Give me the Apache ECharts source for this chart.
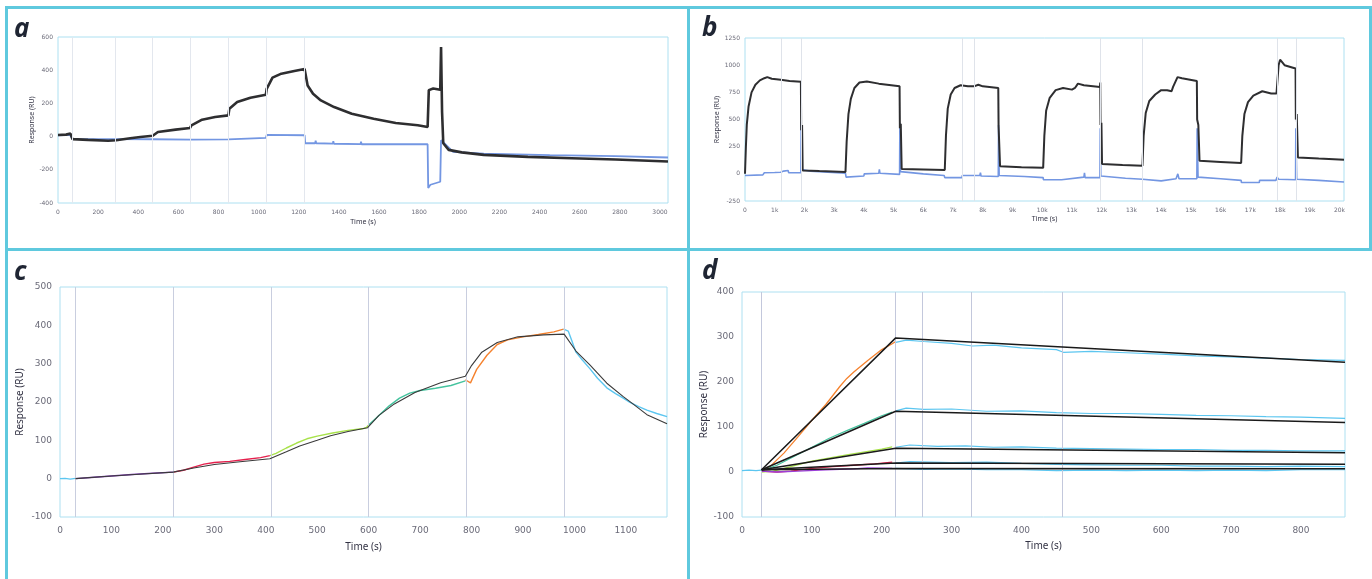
<!DOCTYPE html>
<html>
<head>
<meta charset="utf-8">
<title>SPR sensorgrams</title>
<script src="https://cdn.jsdelivr.net/npm/echarts@6/dist/echarts.min.js"></script>
<style>
  html, body { margin: 0; padding: 0; background: #ffffff; }
  #chart { width: 1372px; height: 579px; }
</style>
</head>
<body>
<div id="chart"></div>
<script>
// ---- panel a : single cycle, two flow cells ----
const aMarkers = [70, 283, 472, 658, 849, 1036, 1229];
const aActive = [[0,10],[40,12],[62,18],[72,-15],[150,-20],[250,-25],[290,-22],[360,-10],[410,-2],[472,5],[476,12],[498,28],[586,42],[658,52],[665,68],[718,102],[783,118],[849,128],[854,168],[893,208],[959,234],[1036,252],[1040,288],[1069,355],[1113,379],[1178,395],[1229,407],[1244,308],[1271,258],[1310,218],[1376,178],[1464,138],[1573,108],[1683,82],[1793,68],[1842,58],[1848,280],[1870,290],[1905,282],[1909,540],[1914,150],[1920,-40],[1947,-80],[2012,-95],[2122,-110],[2342,-122],[2561,-130],[2780,-138],[3040,-150]];
const aReference = [[0,8],[60,10],[65,22],[72,-15],[290,-15],[472,-16],[476,-20],[658,-18],[849,-17],[854,-8],[1036,-8],[1040,10],[1229,8],[1232,-40],[1282,-40],[1284,-24],[1287,-40],[1370,-42],[1372,-28],[1375,-43],[1508,-45],[1510,-30],[1513,-46],[1842,-46],[1845,-310],[1856,-290],[1905,-272],[1909,-22],[1925,-40],[1969,-92],[2122,-102],[2451,-112],[2780,-118],[3040,-126]];

// ---- panel b : six regeneration cycles ----
const bMarkers = [1220, 1880, 7310, 7720, 11940, 13380, 17920, 18560];
const bActive = [[0,0],[30,250],[60,450],[120,620],[220,750],[350,820],[500,860],[650,880],[750,890],[900,875],[1200,865],[1500,855],[1880,848],[1890,400],[1920,450],[1940,30],[2500,25],[3380,18],
  [3390,20],[3420,300],[3480,550],[3560,690],[3680,790],[3850,840],[4100,850],[4500,830],[5200,805],[5210,420],[5240,460],[5270,45],[6000,40],[6720,35],
  [6730,40],[6760,350],[6820,600],[6920,730],[7050,790],[7250,815],[7500,805],[7700,805],[7850,820],[8000,805],[8520,790],[8530,440],[8560,450],[8580,70],[9300,60],[10030,55],
  [10040,60],[10070,350],[10130,580],[10250,700],[10450,770],[10700,790],[11000,775],[11100,790],[11200,830],[11400,815],[11940,800],[11950,840],[11960,450],[11990,470],[12010,90],[12700,82],[13370,75],
  [13380,80],[13410,350],[13480,560],[13600,670],[13800,730],[14000,770],[14200,770],[14350,760],[14400,800],[14550,890],[14700,880],[15200,855],[15210,500],[15250,450],[15290,120],[16000,110],[16690,100],
  [16700,105],[16730,350],[16800,550],[16920,660],[17100,720],[17400,760],[17700,740],[17880,740],[17950,1000],[18000,1050],[18150,1000],[18520,970],[18530,500],[18560,550],[18600,150],[19300,140],[20150,130]];
const bReference = [[0,-15],[600,-10],[650,10],[1000,12],[1200,15],[1300,25],[1320,10],[1450,30],[1470,10],[1880,10],[1890,480],[1910,40],[2200,25],[3380,5],[3400,-30],[4000,-20],[4010,0],[4500,5],[4520,40],[4540,5],[5200,-5],[5210,470],[5230,20],[6000,0],[6700,-15],[6720,-35],[7300,-35],[7310,-15],[7900,-15],[7920,10],[7940,-20],[8520,-25],[8530,450],[8550,-15],[9400,-25],[10030,-35],[10040,-55],[10650,-55],[10660,-40],[11400,-30],[11420,10],[11440,-35],[11940,-35],[11950,420],[11970,-20],[12800,-40],[13370,-50],[13380,-65],[14000,-65],[14010,-50],[14500,-45],[14560,0],[14600,-45],[15200,-45],[15210,420],[15240,-30],[16000,-45],[16690,-60],[16700,-80],[17300,-80],[17310,-60],[17860,-60],[17900,-30],[17950,-50],[18520,-55],[18530,420],[18560,-50],[19300,-60],[20150,-75]];

// ---- panel c : single cycle kinetics with fit ----
const cMarkers = [30, 220, 410, 600, 790, 980];
const cBaseline = [[0,0],[10,1],[20,-1],[30,1]];
const cConc1 = [[30,0],[60,3],[100,7],[140,11],[180,14],[220,17]];
const cConc2 = [[220,17],[240,22],[260,30],[280,38],[300,42],[330,45],[360,50],[390,55],[408,60]];
const cConc3 = [[408,60],[420,66],[440,80],[460,93],[480,104],[500,111],[530,119],[560,126],[590,131],[596,134],[600,140]];
const cConc4 = [[600,140],[620,165],[640,190],[660,210],[680,223],[700,230],[730,236],[760,243],[788,255]];
const cConc5 = [[788,258],[798,250],[810,285],[830,322],[850,350],[870,362],[900,370],[930,376],[960,383],[979,390]];
const cDissoc = [[979,390],[982,395],[988,385],[995,360],[1003,330],[1015,310],[1030,287],[1045,262],[1063,237],[1080,222],[1095,210],[1108,199],[1125,188],[1141,179],[1160,170],[1180,162]];
const cFit = [[30,0],[100,7],[160,12],[220,17],[260,28],[300,37],[350,44],[408,52],[440,70],[466,85],[500,100],[526,112],[560,123],[598,133],[620,165],[650,195],[690,225],[740,250],[788,267],[800,295],[820,330],[850,355],[890,370],[940,375],[980,377],[1003,333],[1030,297],[1063,249],[1095,214],[1108,201],[1141,167],[1180,143]];

// ---- panel d : multi cycle kinetics with fits ----
const dMarkers = [28, 220, 258, 328, 458];
const dBaseline = [[0,3],[10,4],[20,3],[28,4]];
const dAssoc1 = [[28,3],[40,12],[60,42],[80,78],[100,115],[120,150],[140,190],[150,208],[160,222],[180,248],[200,272],[215,285],[220,290]];
const dAssoc2 = [[28,3],[50,15],[75,35],[100,55],[125,75],[150,92],[175,108],[200,125],[215,133]];
const dAssoc3 = [[28,0],[45,2],[60,8],[100,24],[150,38],[200,51],[215,56]];
const dAssoc4 = [[28,2],[50,0],[70,2],[100,8],[130,12],[160,15],[190,18],[215,22]];
const dAssoc5 = [[28,2],[50,0],[80,2],[120,5],[160,7],[180,9],[215,8]];
const dDissoc1 = [[220,288],[235,293],[260,290],[300,286],[330,280],[360,282],[400,276],[450,272],[460,266],[500,268],[550,265],[600,262],[650,258],[700,256],[750,253],[800,250],[863,248]];
const dDissoc2 = [[220,136],[235,142],[260,139],[300,140],[350,135],[400,136],[450,132],[500,130],[550,130],[600,128],[650,126],[700,125],[750,123],[800,122],[863,119]];
const dDissoc3 = [[220,55],[240,60],[280,57],[320,58],[360,55],[400,56],[450,53],[500,52],[550,51],[600,50],[650,50],[700,48],[750,48],[800,47],[863,47]];
const dDissoc4 = [[220,20],[240,23],[300,21],[350,22],[400,19],[450,17],[500,16],[550,15],[600,15],[650,13],[700,13],[750,12],[800,13],[863,12]];
const dDissoc5 = [[220,8],[260,6],[300,7],[350,5],[400,5],[450,3],[500,4],[550,3],[600,4],[650,3],[700,4],[750,3],[800,5],[863,5]];
const dFits = [
  [[28,5],[220,298],[863,244]],
  [[28,5],[220,135],[863,110]],
  [[28,5],[220,53],[863,43]],
  [[28,5],[220,20],[863,17]],
  [[28,5],[220,8],[863,7]]
];

const chart = echarts.init(document.getElementById('chart'), null, { renderer: 'canvas' });

const frame = '#5fc9de';
const plotBorder = '#ade0f1';
const plain = function (v) { return String(v); };

function line(name, data, color, width, xi, z) {
  return {
    name: name, type: 'line', data: data, xAxisIndex: xi, yAxisIndex: xi,
    showSymbol: false, symbol: 'none', z: z || 3,
    lineStyle: { color: color, width: width }
  };
}

function markers(list, xi, color, yMin) {
  return {
    type: 'line', xAxisIndex: xi, yAxisIndex: xi, data: [[list[0], yMin]],
    symbol: 'none', showSymbol: false, lineStyle: { width: 0 }, z: 1,
    markLine: {
      silent: true, symbol: ['none', 'none'], label: { show: false },
      lineStyle: { color: color, width: 1, type: 'solid' },
      data: list.map(function (x) { return { xAxis: x }; })
    }
  };
}

function xAxis(gi, max, interval, fs, gap, fmt) {
  return {
    type: 'value', gridIndex: gi, min: 0, max: max, interval: interval,
    name: 'Time (s)', nameLocation: 'middle', nameGap: gap,
    nameTextStyle: { fontSize: fs + 1, color: '#333344', fontFamily: 'Noto Sans' },
    axisLine: { show: false }, axisTick: { show: false }, splitLine: { show: false },
    axisLabel: { fontSize: fs, color: '#6a6a78', margin: fs > 7 ? 9 : 6, showMaxLabel: false, fontFamily: 'DejaVu Sans', formatter: fmt || plain }
  };
}

function yAxis(gi, min, max, interval, fs, gap) {
  return {
    type: 'value', gridIndex: gi, min: min, max: max, interval: interval,
    name: 'Response (RU)', nameLocation: 'middle', nameGap: gap, nameRotate: 90,
    nameTextStyle: { fontSize: fs + 1, color: '#333344', fontFamily: 'Noto Sans' },
    axisLine: { show: false }, axisTick: { show: false }, splitLine: { show: false },
    axisLabel: { fontSize: fs, color: '#6a6a78', margin: fs > 7 ? 8 : 5, fontFamily: 'DejaVu Sans', formatter: plain }
  };
}

const gridBase = { show: true, borderColor: plotBorder, borderWidth: 1, backgroundColor: '#ffffff' };

function panelLabel(text, x, y) {
  return {
    type: 'text', left: x, top: y, z: 100,
    style: { text: text, fontSize: 26, fontWeight: 'bold', fontStyle: 'italic', fontFamily: 'Open Sans', fill: '#1f2533' }
  };
}

chart.setOption({
  animation: false,
  backgroundColor: '#ffffff',
  grid: [
    Object.assign({ left: 58, top: 37, width: 610, height: 166 }, gridBase),
    Object.assign({ left: 745, top: 38, width: 599, height: 163 }, gridBase),
    Object.assign({ left: 60, top: 287, width: 607, height: 230 }, gridBase),
    Object.assign({ left: 742, top: 292, width: 603, height: 225 }, gridBase)
  ],
  xAxis: [
    xAxis(0, 3040, 200, 6, 15),
    xAxis(1, 20150, 1000, 6, 14, function (v) { return v === 0 ? '0' : (v / 1000) + 'k'; }),
    xAxis(2, 1180, 100, 9, 25),
    xAxis(3, 863, 100, 9, 24)
  ],
  yAxis: [
    yAxis(0, -400, 600, 200, 6, 19),
    yAxis(1, -250, 1250, 250, 6, 22),
    yAxis(2, -100, 500, 100, 9, 35),
    yAxis(3, -100, 400, 100, 9, 33)
  ],
  graphic: [
    { type: 'rect', shape: { x: 5, y: 6, width: 1365, height: 3 }, style: { fill: frame }, z: 90 },
    { type: 'rect', shape: { x: 5, y: 6, width: 3, height: 573 }, style: { fill: frame }, z: 90 },
    { type: 'rect', shape: { x: 687, y: 6, width: 3, height: 573 }, style: { fill: frame }, z: 90 },
    { type: 'rect', shape: { x: 5, y: 248, width: 1367, height: 3 }, style: { fill: frame }, z: 90 },
    { type: 'rect', shape: { x: 1369, y: 6, width: 3, height: 245 }, style: { fill: frame }, z: 90 },
    panelLabel('a', 14, 17),
    panelLabel('b', 702, 16),
    panelLabel('c', 14, 260),
    panelLabel('d', 702, 259)
  ],
  series: [
    markers(aMarkers, 0, '#e3e7ee', -400),
    line('a reference', aReference, '#7396e2', 1.8, 0, 3),
    line('a active', aActive, '#2e2e30', 2.6, 0, 4),

    markers(bMarkers, 1, '#dfe3ea', -250),
    line('b reference', bReference, '#7396e2', 1.6, 1, 3),
    line('b active', bActive, '#2e2e30', 2, 1, 4),

    markers(cMarkers, 2, '#c9cedf', -100),
    line('c baseline', cBaseline, '#5cc6f0', 1.2, 2),
    line('c 1', cConc1, '#7a35b0', 1.4, 2),
    line('c 2', cConc2, '#e5204d', 1.4, 2),
    line('c 3', cConc3, '#a8e24a', 1.4, 2),
    line('c 4', cConc4, '#44c39e', 1.4, 2),
    line('c 5', cConc5, '#f5822e', 1.4, 2),
    line('c dissociation', cDissoc, '#5cc6f0', 1.4, 2),
    line('c fit', cFit, '#3a3a3a', 1.1, 2, 5),

    markers(dMarkers, 3, '#c3c8dc', -100),
    line('d baseline', dBaseline, '#5cc6f0', 1.2, 3),
    line('d assoc 1', dAssoc1, '#f5822e', 1.3, 3),
    line('d assoc 2', dAssoc2, '#44c39e', 1.3, 3),
    line('d assoc 3', dAssoc3, '#a8e24a', 1.3, 3),
    line('d assoc 4', dAssoc4, '#e5204d', 1.3, 3),
    line('d assoc 5', dAssoc5, '#9b3fd8', 1.3, 3),
    line('d dissoc 1', dDissoc1, '#5cc6f0', 1.2, 3),
    line('d dissoc 2', dDissoc2, '#5cc6f0', 1.2, 3),
    line('d dissoc 3', dDissoc3, '#5cc6f0', 1.2, 3),
    line('d dissoc 4', dDissoc4, '#5cc6f0', 1.2, 3),
    line('d dissoc 5', dDissoc5, '#5cc6f0', 1.2, 3)
  ].concat(dFits.map(function (f, i) { return line('d fit ' + (i + 1), f, '#1a1a1a', 1.5, 3, 6); }))
});
</script>
</body>
</html>
